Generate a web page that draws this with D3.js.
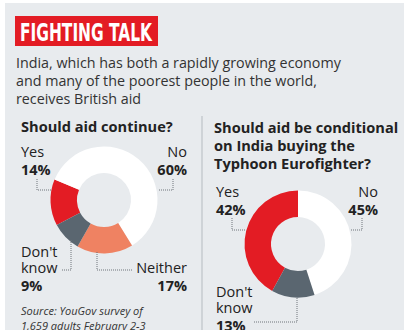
<!DOCTYPE html>
<meta charset="utf-8">
<style>
  body { margin: 0; background: #fff; }
  text { font-family: "Open Sans", Roboto, sans-serif; fill: #222; }
  .pct { font-weight: 700; }
  .lead { fill: none; stroke: #6f757a; stroke-width: 1; stroke-dasharray: 1,1; }
</style>
<svg width="404" height="330"></svg>
<script src="https://d3js.org/d3.v7.min.js"></script>
<script>
// data
var aidLabels = ['Yes', 'No', 'Neither', "Don't know"]
var aidValues = [14, 60, 17, 9]
var condLabels = ['Yes', 'No', "Don't know"]
var condValues = [42, 45, 13]

var colors = {
  'Yes': '#e31c24',
  'No': '#ffffff',
  'Neither': '#ef8262',
  "Don't know": '#5a6670'
}

var svg = d3.select('svg')

// panel background
svg.append('rect')
  .attr('x', 5).attr('y', 3)
  .attr('width', 399).attr('height', 327)
  .attr('fill', '#e8ebee')

// header
svg.append('rect')
  .attr('x', 15).attr('y', 16)
  .attr('width', 143).attr('height', 30)
  .attr('fill', '#e31c24')
svg.append('text')
  .attr('x', 20).attr('y', 41)
  .attr('textLength', 132).attr('lengthAdjust', 'spacingAndGlyphs')
  .style('font-family', '"Liberation Sans Narrow", "DejaVu Sans Condensed", sans-serif')
  .style('font-weight', 700).style('font-size', '24px').style('fill', '#fff')
  .text('FIGHTING TALK')

var sub = ['India, which has both a rapidly growing economy',
  'and many of the poorest people in the world,',
  'receives British aid']
svg.selectAll('.sub').data(sub).enter().append('text')
  .attr('class', 'sub')
  .attr('x', 16).attr('y', function (d, i) { return 68 + i * 18 })
  .style('font-size', '14.3px').style('fill', '#333')
  .text(function (d) { return d })

// divider
svg.append('line')
  .attr('x1', 202).attr('x2', 202).attr('y1', 116).attr('y2', 330)
  .attr('stroke', '#b5bbc0').attr('stroke-width', 1)

// titles
svg.append('text').attr('x', 21).attr('y', 132)
  .style('font-size', '14.6px').style('font-weight', 700)
  .text('Should aid continue?')
var t2 = ['Should aid be conditional', 'on India buying the', 'Typhoon Eurofighter?']
svg.selectAll('.t2').data(t2).enter().append('text')
  .attr('class', 't2')
  .attr('x', 214).attr('y', function (d, i) { return 133 + i * 18 })
  .style('font-size', '14.6px').style('font-weight', 700)
  .text(function (d) { return d })

function donut(cx, cy, labels, values, start) {
  var pie = d3.pie().sort(null).value(function (d) { return d.value })
    .startAngle(start).endAngle(start + 2 * Math.PI)
  var arc = d3.arc().innerRadius(27).outerRadius(53.5)
  var g = svg.append('g').attr('transform', 'translate(' + cx + ',' + cy + ')')
  g.selectAll('path')
    .data(pie(values.map(function (v, i) { return { name: labels[i], value: v } })))
    .enter().append('path')
    .attr('d', arc)
    .attr('fill', function (d) { return colors[d.data.name] })
}

var rad = Math.PI / 180
donut(104, 200, aidLabels, aidValues, -118 * rad)
donut(298, 244, condLabels, condValues, -151.2 * rad)

// labels
function label(x, y, lines, pct, anchor) {
  var t = svg.append('g')
  lines.forEach(function (l, i) {
    t.append('text').attr('x', x).attr('y', y + i * 16)
      .attr('text-anchor', anchor).style('font-size', '14.5px').text(l)
  })
  t.append('text').attr('x', x).attr('y', y + lines.length * 16 + 2)
    .attr('class', 'pct').attr('text-anchor', anchor)
    .style('font-size', '14.5px').text(pct + '%')
}

label(21, 157, ['Yes'], aidValues[0], 'start')
label(187, 157, ['No'], aidValues[1], 'end')
label(21, 257, ["Don't", 'know'], aidValues[3], 'start')
label(187, 273, ['Neither'], aidValues[2], 'end')

label(216, 197, ['Yes'], condValues[0], 'start')
label(378, 197, ['No'], condValues[1], 'end')
label(216, 297, ["Don't", 'know'], condValues[2], 'start')

// leaders
var leads = [
  [[37, 179], [37, 190], [51, 190]],
  [[173, 179], [173, 190], [158, 190]],
  [[62, 270], [71, 270], [71, 240]],
  [[97, 252], [97, 270], [133, 270]],
  [[232, 218], [232, 230], [245, 230]],
  [[362, 218], [362, 230], [351, 230]],
  [[297, 298], [297, 322], [253, 322]]
]
svg.selectAll('.lead').data(leads).enter().append('path')
  .attr('class', 'lead')
  .attr('d', d3.line())

// source
svg.append('text').attr('x', 21).attr('y', 315)
  .style('font-size', '11px').style('font-style', 'italic').style('fill', '#333')
  .text('Source: YouGov survey of')
svg.append('text').attr('x', 21).attr('y', 330)
  .style('font-size', '11px').style('font-style', 'italic').style('fill', '#333')
  .text('1,659 adults February 2-3')
</script>
